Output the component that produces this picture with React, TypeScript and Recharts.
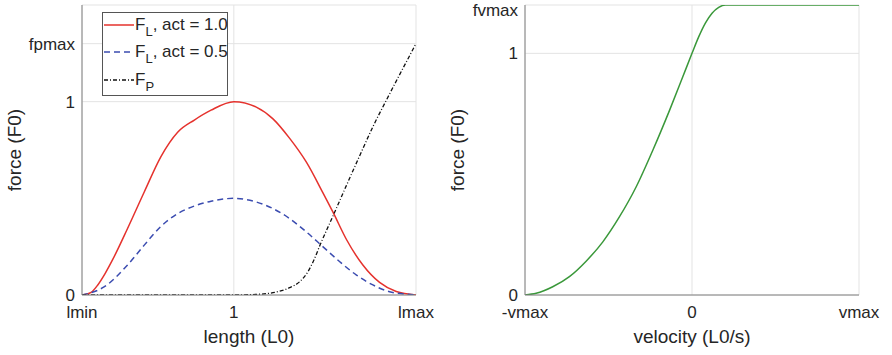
import { LineChart, Line, XAxis, YAxis, CartesianGrid } from "recharts";

// tick positions and their text
const lengthTicks = [0.5, 1, 1.6];
const lengthTickLabels = ["lmin", "1", "lmax"];
const forceTicksLength = [0, 1, 1.3];
const forceLabelsLength = ["0", "1", "fpmax"];
const velocityTicks = [-1, 0, 1];
const velocityTickLabels = ["-vmax", "0", "vmax"];
const forceTicksVelocity = [0, 1, 1.2];
const forceLabelsVelocity = ["0", "1", "fvmax"];

// force-length, full activation
const activeFull = [
  { l: 0.5, f: 0 }, { l: 0.53, f: 0.014 }, { l: 0.552, f: 0.052 }, { l: 0.575, f: 0.108 },
  { l: 0.6, f: 0.18 }, { l: 0.65, f: 0.344 }, { l: 0.705, f: 0.533 }, { l: 0.76, f: 0.716 },
  { l: 0.815, f: 0.842 }, { l: 0.87, f: 0.905 }, { l: 0.925, f: 0.956 }, { l: 1.0, f: 1.0 },
  { l: 1.074, f: 0.972 }, { l: 1.129, f: 0.911 }, { l: 1.184, f: 0.81 }, { l: 1.239, f: 0.687 },
  { l: 1.294, f: 0.527 }, { l: 1.327, f: 0.427 }, { l: 1.371, f: 0.287 }, { l: 1.425, f: 0.155 },
  { l: 1.48, f: 0.065 }, { l: 1.535, f: 0.018 }, { l: 1.6, f: 0 },
];

// force-length, half activation
const activeHalf = [
  { l: 0.5, f: 0 }, { l: 0.574, f: 0.043 }, { l: 0.65, f: 0.155 }, { l: 0.705, f: 0.258 },
  { l: 0.76, f: 0.355 }, { l: 0.815, f: 0.421 }, { l: 0.87, f: 0.46 }, { l: 0.925, f: 0.485 },
  { l: 1.0, f: 0.5 }, { l: 1.074, f: 0.481 }, { l: 1.129, f: 0.447 }, { l: 1.184, f: 0.395 },
  { l: 1.239, f: 0.326 }, { l: 1.294, f: 0.249 }, { l: 1.349, f: 0.172 }, { l: 1.404, f: 0.103 },
  { l: 1.458, f: 0.052 }, { l: 1.513, f: 0.017 }, { l: 1.568, f: 0.004 }, { l: 1.6, f: 0 },
];

// passive force
const passive = [
  { l: 0.5, f: 0 }, { l: 1.0, f: 0 }, { l: 1.06, f: 0.002 }, { l: 1.129, f: 0.012 },
  { l: 1.184, f: 0.038 }, { l: 1.217, f: 0.069 }, { l: 1.244, f: 0.12 }, { l: 1.266, f: 0.189 },
  { l: 1.285, f: 0.262 }, { l: 1.327, f: 0.41 }, { l: 1.371, f: 0.567 }, { l: 1.415, f: 0.722 },
  { l: 1.458, f: 0.87 }, { l: 1.513, f: 1.04 }, { l: 1.6, f: 1.3 },
];

// force-velocity
const forceVelocity = [
  { v: -1, f: 0 }, { v: -0.933, f: 0.007 }, { v: -0.834, f: 0.034 }, { v: -0.734, f: 0.076 },
  { v: -0.634, f: 0.14 }, { v: -0.534, f: 0.22 }, { v: -0.434, f: 0.324 }, { v: -0.334, f: 0.448 },
  { v: -0.234, f: 0.6 }, { v: -0.134, f: 0.765 }, { v: -0.054, f: 0.905 }, { v: 0, f: 1.0 },
  { v: 0.04, f: 1.068 }, { v: 0.08, f: 1.125 }, { v: 0.12, f: 1.166 }, { v: 0.16, f: 1.19 },
  { v: 0.2, f: 1.2 }, { v: 1, f: 1.2 },
];

const FONT = "'Liberation Sans', Arial, sans-serif";
const TEXT = "#262626";
const AXIS = "#808080";
const GRID = "#e3e3e3";
const RED = "#e5322d";
const BLUE = "#3b4cb0";
const GREEN = "#3a983a";

const tickStyle = { fontSize: 17, fill: TEXT, fontFamily: FONT };

const fmt = (ticks: number[], labels: string[]) => (v: number) => labels[ticks.indexOf(v)] ?? "";

const XTitle = ({ viewBox, text }: any) => (
  <text
    x={viewBox.x + viewBox.width / 2}
    y={viewBox.y + viewBox.height - 12}
    textAnchor="middle"
    fontSize={19}
    fontFamily={FONT}
    fill={TEXT}
  >
    {text}
  </text>
);

const YTitle = ({ viewBox, text, cx }: any) => {
  const cy = viewBox.y + viewBox.height / 2;
  return (
    <text
      x={cx}
      y={cy}
      dy="0.35em"
      transform={`rotate(-90, ${cx}, ${cy})`}
      textAnchor="middle"
      fontSize={19}
      fontFamily={FONT}
      fill={TEXT}
    >
      {text}
    </text>
  );
};

const legendRows = [
  { sub: "L", rest: ", act = 1.0", color: RED, dash: undefined, y: 25 },
  { sub: "L", rest: ", act = 0.5", color: BLUE, dash: "6 4", y: 52 },
  { sub: "P", rest: "", color: "#111", dash: "4 2 1 2", y: 80 },
];

const LegendBox = () => (
  <div
    style={{
      position: "absolute",
      left: 102,
      top: 12,
      width: 124,
      height: 82,
      border: "1px solid #555",
      background: "#fff",
      fontFamily: FONT,
      color: TEXT,
    }}
  >
    {legendRows.map((r, i) => (
      <div key={i} style={{ position: "absolute", left: 0, top: r.y - 12 - 13, height: 24, display: "flex", alignItems: "center" }}>
        <svg width={31} height={24} style={{ marginLeft: 1 }}>
          <line x1={0} x2={30} y1={12} y2={12} stroke={r.color} strokeWidth={1.5} strokeDasharray={r.dash} />
        </svg>
        <span style={{ fontSize: 17, lineHeight: "24px", whiteSpace: "nowrap" }}>
          F
          <span style={{ fontSize: 13, position: "relative", top: 6 }}>{r.sub}</span>
          {r.rest}
        </span>
      </div>
    ))}
  </div>
);

export default function App() {
  return (
    <div style={{ position: "absolute", left: 0, top: 0, width: 892, height: 355, background: "#fff" }}>
      <div style={{ position: "absolute", left: 0, top: 0 }}>
        <LineChart width={446} height={355} margin={{ top: 5, right: 30, bottom: 0, left: 0 }}>
          <CartesianGrid stroke={GRID} />
          <XAxis
            type="number"
            dataKey="l"
            domain={[0.5, 1.6]}
            ticks={lengthTicks}
            tickFormatter={fmt(lengthTicks, lengthTickLabels)}
            tick={tickStyle}
            tickSize={0}
            tickMargin={11}
            height={60}
            stroke={AXIS}
            allowDataOverflow
            label={{ content: (p: any) => <XTitle {...p} text="length (L0)" /> }}
          />
          <YAxis
            type="number"
            domain={[0, 1.5]}
            ticks={forceTicksLength}
            tickFormatter={fmt(forceTicksLength, forceLabelsLength)}
            tick={tickStyle}
            tickSize={0}
            tickMargin={7}
            width={82}
            stroke={AXIS}
            allowDataOverflow
            label={{ content: (p: any) => <YTitle {...p} text="force (F0)" cx={14} /> }}
          />
          <Line data={activeFull} dataKey="f" type="monotone" stroke={RED} strokeWidth={1.5} dot={false} isAnimationActive={false} />
          <Line data={activeHalf} dataKey="f" type="monotone" stroke={BLUE} strokeWidth={1.5} strokeDasharray="6 4" dot={false} isAnimationActive={false} />
          <Line data={passive} dataKey="f" type="monotone" stroke="#111" strokeWidth={1.3} strokeDasharray="4 2 1 2" dot={false} isAnimationActive={false} />
        </LineChart>
        <LegendBox />
      </div>
      <div style={{ position: "absolute", left: 446, top: 0 }}>
        <LineChart width={446} height={355} margin={{ top: 5, right: 33, bottom: 0, left: 0 }}>
          <CartesianGrid stroke={GRID} />
          <XAxis
            type="number"
            dataKey="v"
            domain={[-1, 1]}
            ticks={velocityTicks}
            tickFormatter={fmt(velocityTicks, velocityTickLabels)}
            tick={tickStyle}
            tickSize={0}
            tickMargin={11}
            height={60}
            stroke={AXIS}
            allowDataOverflow
            label={{ content: (p: any) => <XTitle {...p} text="velocity (L0/s)" /> }}
          />
          <YAxis
            type="number"
            domain={[0, 1.2]}
            ticks={forceTicksVelocity}
            tickFormatter={fmt(forceTicksVelocity, forceLabelsVelocity)}
            tick={tickStyle}
            tickSize={0}
            tickMargin={7}
            width={79}
            stroke={AXIS}
            allowDataOverflow
            label={{ content: (p: any) => <YTitle {...p} text="force (F0)" cx={11} /> }}
          />
          <Line data={forceVelocity} dataKey="f" type="monotone" stroke={GREEN} strokeWidth={1.5} dot={false} isAnimationActive={false} />
        </LineChart>
      </div>
    </div>
  );
}
